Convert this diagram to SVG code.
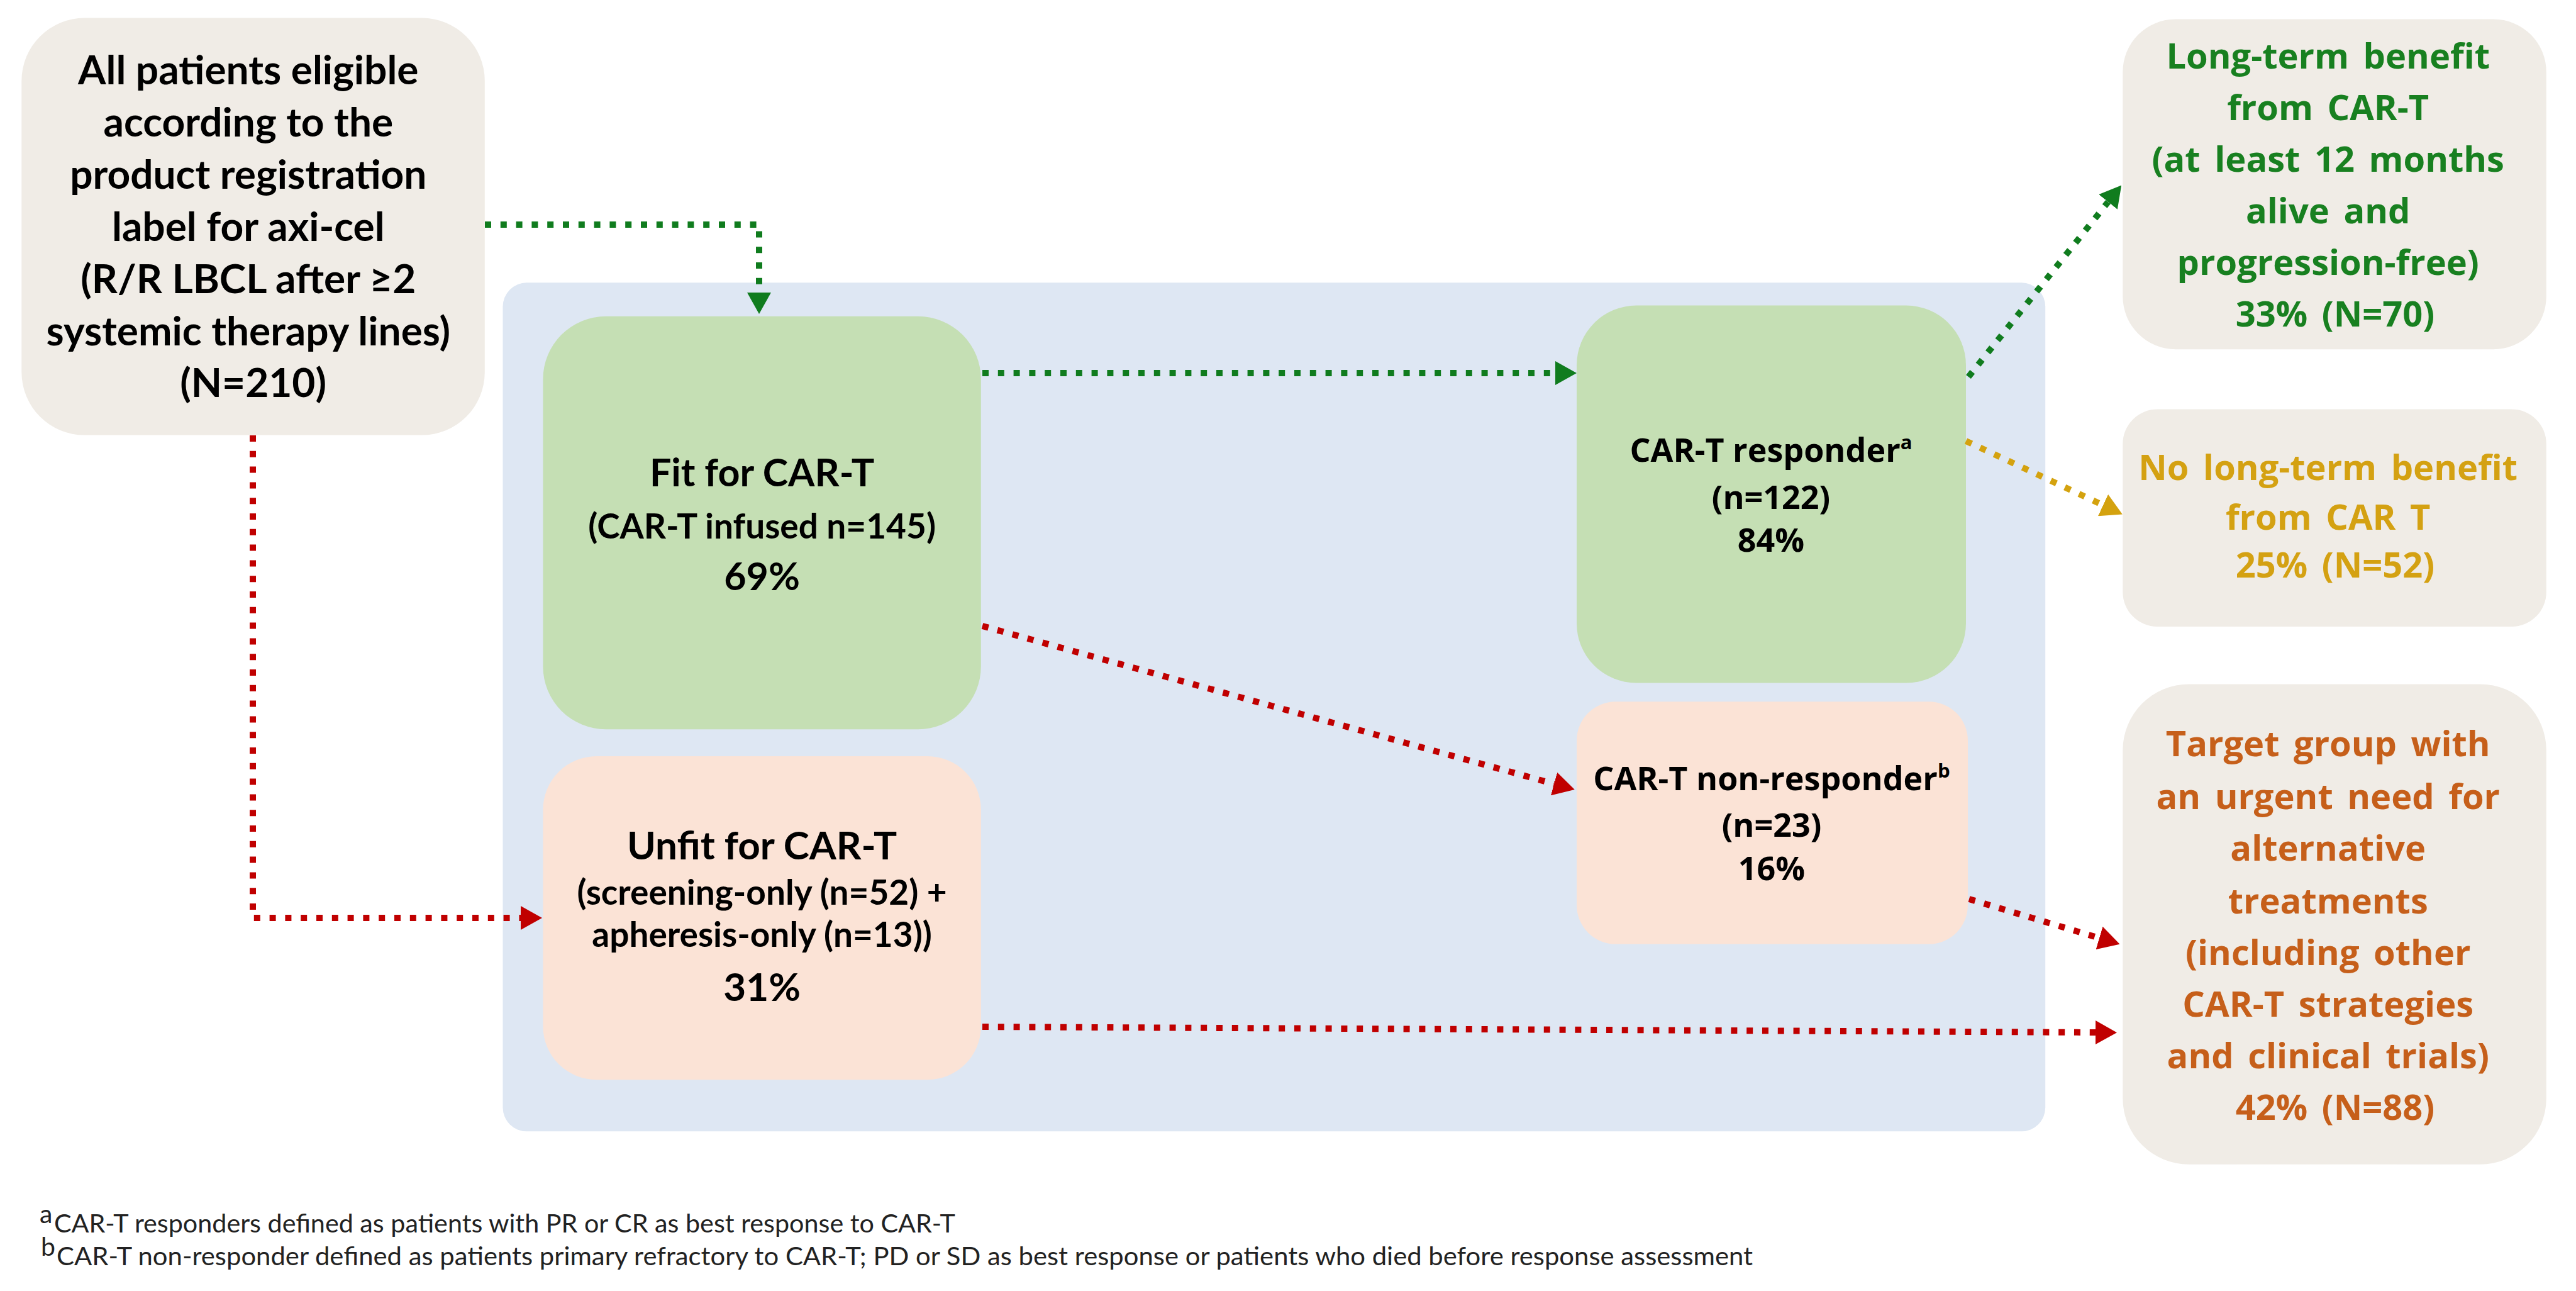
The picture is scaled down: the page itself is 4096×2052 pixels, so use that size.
<svg xmlns="http://www.w3.org/2000/svg" width="4096" height="2052" viewBox="0 0 4096 2052">
<defs>
<style>
.beige{fill:#F0ECE6}
.blue{fill:#DEE7F3}
.green{fill:#C5DFB4}
.peach{fill:#FBE3D6}
.lt{font-family:Lato,"Liberation Sans",sans-serif;font-weight:bold;text-anchor:middle;fill:#000}
.os{font-family:"Open Sans","Liberation Sans",sans-serif;font-weight:bold;text-anchor:middle}
.fn{font-family:Lato,"Liberation Sans",sans-serif;fill:#222;font-size:41px}
.sup{font-size:0.6em}
.c{fill:none;stroke-width:10;stroke-dasharray:10 14.8}
.cg{stroke:#107C1E}
.cr{stroke:#C00000}
.cy{stroke:#D4A20F}
</style>
<marker id="ag" markerUnits="userSpaceOnUse" viewBox="0 0 34 38" markerWidth="34" markerHeight="38" refX="0" refY="19" orient="auto"><path d="M0,0 L34,19 L0,38 z" fill="#107C1E"/></marker>
<marker id="ar" markerUnits="userSpaceOnUse" viewBox="0 0 34 38" markerWidth="34" markerHeight="38" refX="0" refY="19" orient="auto"><path d="M0,0 L34,19 L0,38 z" fill="#C00000"/></marker>
<marker id="ay" markerUnits="userSpaceOnUse" viewBox="0 0 34 38" markerWidth="34" markerHeight="38" refX="0" refY="19" orient="auto"><path d="M0,0 L34,19 L0,38 z" fill="#D4A20F"/></marker>
</defs>
<rect width="4096" height="2052" fill="#fff"/>
<g id="container"><rect class="blue" x="799.5" y="449.3" width="2452.7" height="1349" rx="38"/></g>

<g id="all-patients">
<rect class="beige" x="34.3" y="28.6" width="736.5" height="663" rx="100"/>
<text class="lt" font-size="64" x="402.6">
<tspan x="402.6" y="134">All patients eligible</tspan>
<tspan x="402.6" y="216.9">according to the</tspan>
<tspan x="402.6" y="299.8">product registration</tspan>
<tspan x="402.6" y="382.7">label for axi-cel</tspan>
<tspan x="402.6" y="465.6">(R/R LBCL after ≥2</tspan>
<tspan x="402.6" y="548.5">systemic therapy lines)</tspan>
<tspan x="402.6" y="631.4">(N=210)</tspan>
</text>
</g>

<g id="fit">
<rect class="green" x="863.4" y="502.8" width="696.4" height="656.4" rx="100"/>
<text class="lt" x="1211.6" y="772.7" font-size="61">Fit for CAR-T</text>
<text class="lt" x="1211.6" y="855.7" font-size="55">(CAR-T infused n=145)</text>
<text class="lt" x="1211.6" y="937.8" font-size="61">69%</text>
</g>

<g id="unfit">
<rect class="peach" x="863.4" y="1202" width="696.4" height="514.2" rx="85"/>
<text class="lt" x="1211.6" y="1366" font-size="62">Unfit for CAR-T</text>
<text class="lt" x="1211.6" y="1437.7" font-size="55">(screening-only (n=52) +</text>
<text class="lt" x="1211.6" y="1504.5" font-size="55">apheresis-only (n=13))</text>
<text class="lt" x="1211.6" y="1591.3" font-size="62">31%</text>
</g>

<g id="responder">
<rect class="green" x="2507" y="485.6" width="619" height="600" rx="95"/>
<text class="os" fill="#000" font-size="52" x="2816" y="733.6">CAR-T responder<tspan class="sup" dy="-20">a</tspan></text>
<text class="os" fill="#000" font-size="52" x="2816" y="809">(n=122)</text>
<text class="os" fill="#000" font-size="52" x="2816" y="876.7">84%</text>
</g>

<g id="non-responder">
<rect class="peach" x="2507" y="1115.2" width="622" height="385.4" rx="62"/>
<text class="os" fill="#000" font-size="52" x="2817" y="1256.4">CAR-T non-responder<tspan class="sup" dy="-20">b</tspan></text>
<text class="os" fill="#000" font-size="52" x="2817" y="1330">(n=23)</text>
<text class="os" fill="#000" font-size="52" x="2817" y="1398.5">16%</text>
</g>

<g id="long-term">
<rect class="beige" x="3375.3" y="30.5" width="673.5" height="524.7" rx="84"/>
<text class="os" fill="#188020" font-size="56" word-spacing="8">
<tspan x="3713" y="109">Long-term benefit</tspan>
<tspan x="3713" y="191">from CAR-T</tspan>
<tspan x="3713" y="273">(at least 12 months</tspan>
<tspan x="3713" y="355">alive and</tspan>
<tspan x="3713" y="437">progression-free)</tspan>
<tspan x="3713" y="519">33% (N=70)</tspan>
</text>
</g>

<g id="no-long-term">
<rect class="beige" x="3375.3" y="650.6" width="673.5" height="345.3" rx="55"/>
<text class="os" fill="#D4A112" font-size="56" word-spacing="8">
<tspan x="3713" y="763">No long-term benefit</tspan>
<tspan x="3713" y="842">from CAR T</tspan>
<tspan x="3713" y="918">25% (N=52)</tspan>
</text>
</g>

<g id="target">
<rect class="beige" x="3375.3" y="1087.6" width="673.5" height="763.2" rx="105"/>
<text class="os" fill="#C65F1A" font-size="56" word-spacing="8">
<tspan x="3713" y="1202">Target group with</tspan>
<tspan x="3713" y="1286">an urgent need for</tspan>
<tspan x="3713" y="1368">alternative</tspan>
<tspan x="3713" y="1452">treatments</tspan>
<tspan x="3713" y="1534">(including other</tspan>
<tspan x="3713" y="1616">CAR-T strategies</tspan>
<tspan x="3713" y="1698">and clinical trials)</tspan>
<tspan x="3713" y="1780">42% (N=88)</tspan>
</text>
</g>

<g id="connectors">
<path class="c cg" d="M771,357 H1207 V465" marker-end="url(#ag)"/>
<path class="c cr" d="M402,692 V1459 H828" marker-end="url(#ar)"/>
<path class="c cg" d="M1562,593 H2473" marker-end="url(#ag)"/>
<path class="c cr" d="M1562,995 L2471,1246" marker-end="url(#ar)"/>
<path class="c cg" d="M3130,599 L3352,321" marker-end="url(#ag)"/>
<path class="c cy" d="M3126,701 L3344,803" marker-end="url(#ay)"/>
<path class="c cr" d="M3131,1429 L3338,1491" marker-end="url(#ar)"/>
<path class="c cr" d="M1562,1632 L3332,1641" marker-end="url(#ar)"/>
</g>

<g id="footnotes">
<text class="fn" x="63" y="1944" font-size="25">a</text>
<text class="fn" x="86" y="1959" textLength="1433" lengthAdjust="spacingAndGlyphs">CAR-T responders defined as patients with PR or CR as best response to CAR-T</text>
<text class="fn" x="65" y="1996" font-size="25">b</text>
<text class="fn" x="90" y="2011" textLength="2697" lengthAdjust="spacingAndGlyphs">CAR-T non-responder defined as patients primary refractory to CAR-T; PD or SD as best response or patients who died before response assessment</text>
</g>
</svg>
